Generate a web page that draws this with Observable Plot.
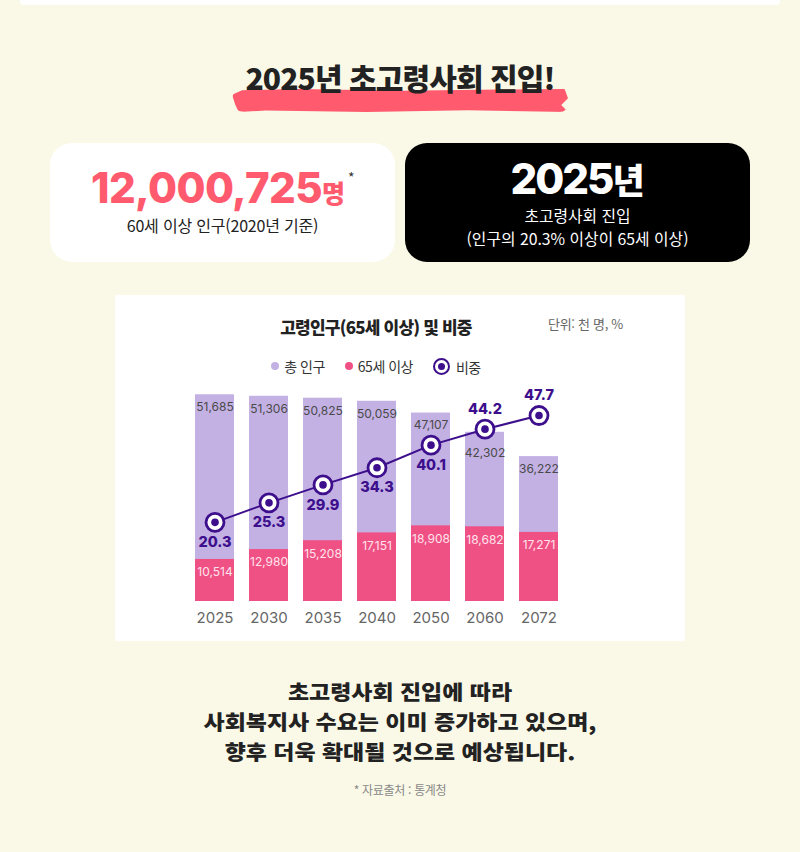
<!DOCTYPE html>
<html lang="ko">
<head>
<meta charset="utf-8">
<script src="https://cdn.jsdelivr.net/npm/d3@7"></script>
<script src="https://cdn.jsdelivr.net/npm/@observablehq/plot@0.6"></script>
<style>
  html, body { margin: 0; padding: 0; }
  body {
    width: 800px; height: 852px; position: relative; overflow: hidden;
    background: #faf9e7;
    font-family: "Noto Sans CJK KR", "Noto Sans", sans-serif;
    color: #222;
  }
  .abs { position: absolute; }
  #topbar { left: 20px; top: 0; width: 760px; height: 5px; background: #fff; border-radius: 0 0 4px 4px; }
  #brush {
    left: 232px; top: 89px; width: 336px; height: 23px; background: #ff5a6e;
    border-radius: 10px 4px 8px 12px / 10px 6px 8px 10px;
    clip-path: polygon(0% 25%, 3% 5%, 20% 0%, 50% 8%, 80% 2%, 99% 0%, 100% 40%, 98% 70%, 100% 100%, 70% 92%, 40% 100%, 10% 94%, 2% 100%, 1% 70%);
  }
  #mainTitle {
    left: 0; width: 800px; top: 57px; text-align: center;
    font-size: 30px; font-weight: 800; letter-spacing: -0.9px; line-height: 40px; color: #222;
  }
  .card { top: 143px; width: 345px; height: 119px; border-radius: 22px; text-align: center; }
  #cardA { left: 50px; background: #fff; }
  #cardB { left: 405px; background: #000; color: #fff; }
  .line { position: absolute; left: 0; width: 345px; white-space: nowrap; line-height: normal; }
  #bigNum { top: 18.5px; font-size: 42px; font-weight: 800; color: #ff5a6e; font-family: Inter, "Noto Sans CJK KR", sans-serif; letter-spacing: -0.6px; }
  #bigNum .u { font-size: 25px; letter-spacing: 0; font-family: "Noto Sans CJK KR", sans-serif; }
  #bigNum .s { font-size: 14px; color: #333; vertical-align: 20px; font-weight: 400; margin-left: 3px; font-family: "Noto Sans CJK KR", sans-serif; }
  #subA { top: 70px; font-size: 16px; letter-spacing: -0.2px; color: #222; }
  #yearB { top: 9.6px; font-size: 42px; font-weight: 800; letter-spacing: -2px; font-family: Inter, "Noto Sans CJK KR", sans-serif; }
  #yearB span { font-family: "Noto Sans CJK KR", sans-serif; font-size: 35px; letter-spacing: 0; }
  #subB1 { top: 60.6px; font-size: 15.8px; letter-spacing: 0px; }
  #subB2 { top: 83.5px; font-size: 15.8px; letter-spacing: 0px; }
  #panel { left: 115px; top: 295px; width: 570px; height: 346px; background: #fff; }
  #chartTitle { position: absolute; left: 0; width: 522px; top: 18px; text-align: center; font-size: 17px; font-weight: 800; letter-spacing: -0.8px; line-height: 28px; color: #222; }
  #unit { position: absolute; left: 433px; top: 18px; font-size: 13px; color: #666; letter-spacing: -0.3px; line-height: 22px; }
  #legend { position: absolute; left: 0; width: 522px; top: 57px; text-align: center; font-size: 14px; letter-spacing: -0.5px; line-height: 24px; color: #333; }
  #legend .item { display: inline-flex; align-items: center; margin: 0 10px; }
  #legend .dot { width: 8px; height: 8px; border-radius: 50%; display: inline-block; margin-right: 5px; }
  #legend .ring { width: 13px; height: 13px; border-radius: 50%; border: 2.5px solid #3d0f8c; display: inline-flex; align-items: center; justify-content: center; margin-right: 6px; background: #fff; }
  #legend .ring i { width: 7px; height: 7px; border-radius: 50%; background: #3d0f8c; display: block; }
  #chart { position: absolute; left: 0; top: 80px; }
  .bt { left: 0; width: 800px; text-align: center; font-size: 20.5px; font-weight: 900; line-height: 30px; letter-spacing: 0px; color: #222; white-space: nowrap; transform: scaleX(1.12); transform-origin: 400px 50%; }
  #bt1 { top: 676px; } #bt2 { top: 706px; } #bt3 { top: 736px; }
  #source { left: 0; width: 800px; top: 781px; text-align: center; font-size: 12px; color: #888; letter-spacing: -0.3px; line-height: 18px; }
</style>
</head>
<body>
<div id="topbar" class="abs"></div>
<div id="brush" class="abs"></div>
<div id="mainTitle" class="abs">2025년 초고령사회 진입!</div>

<div id="cardA" class="abs card">
  <div id="bigNum" class="line">12,000,725<span class="u">명</span><span class="s">*</span></div>
  <div id="subA" class="line">60세 이상 인구(2020년 기준)</div>
</div>
<div id="cardB" class="abs card">
  <div id="yearB" class="line">2025<span>년</span></div>
  <div id="subB1" class="line">초고령사회 진입</div>
  <div id="subB2" class="line">(인구의 20.3% 이상이 65세 이상)</div>
</div>

<div id="panel" class="abs">
  <div id="chartTitle">고령인구(65세 이상) 및 비중</div>
  <div id="unit">단위: 천 명, %</div>
  <div id="legend"></div>
  <div id="chart"></div>
</div>

<div id="bt1" class="abs bt">초고령사회 진입에 따라</div>
<div id="bt2" class="abs bt">사회복지사 수요는 이미 증가하고 있으며,</div>
<div id="bt3" class="abs bt">향후 더욱 확대될 것으로 예상됩니다.</div>
<div id="source" class="abs">* 자료출처 : 통계청</div>

<script>
// ---- data ----
const years = ["2025", "2030", "2035", "2040", "2050", "2060", "2072"];
const totalPop = [51685, 51306, 50825, 50059, 47107, 42302, 36222];   // 총 인구 (천 명)
const seniorPop = [10514, 12980, 15208, 17151, 18908, 18682, 17271];  // 65세 이상 (천 명)
const seniorShare = [20.3, 25.3, 29.9, 34.3, 40.1, 44.2, 47.7];       // 비중 (%)
const legendLabels = ["총 인구", "65세 이상", "비중"];

// ---- styles ----
const C_TOTAL = "#c3b1e4", C_SENIOR = "#f05185", C_LINE = "#3d0f8c";
const POP_MAX = 54000;   // population domain
const PCT_MAX = 55.4;    // share domain mapped onto the same vertical range
const PLOT_H = 266, M_TOP = 10, M_BOTTOM = 40;
const UNITS_PER_PX = POP_MAX / (PLOT_H - M_TOP - M_BOTTOM);

const rows = years.map((year, i) => ({
  year, total: totalPop[i], senior: seniorPop[i], share: seniorShare[i], i
}));
const shareY = d => d.share * POP_MAX / PCT_MAX;
// total label collides with the share marker when the marker sits near the bar top
const collides = d => Math.abs(d.total - shareY(d)) < 14 * UNITS_PER_PX;
const fmt = d3.format(",");
const NUM_FONT = 'Inter, "Noto Sans CJK KR", sans-serif';

// legend
const lg = document.getElementById("legend");
lg.innerHTML =
  `<span class="item"><span class="dot" style="background:${C_TOTAL}"></span>${legendLabels[0]}</span>` +
  `<span class="item"><span class="dot" style="background:${C_SENIOR}"></span>${legendLabels[1]}</span>` +
  `<span class="item"><span class="ring"><i></i></span>${legendLabels[2]}</span>`;

const chart = Plot.plot({
  width: 570,
  height: PLOT_H,
  marginTop: M_TOP,
  marginBottom: M_BOTTOM,
  marginLeft: 79,
  marginRight: 127,
  style: { fontFamily: NUM_FONT, background: "transparent", overflow: "visible" },
  x: { type: "band", domain: years, paddingInner: 0.28, paddingOuter: 0, label: null },
  y: { domain: [0, POP_MAX], axis: null },
  marks: [
    Plot.barY(rows, { x: "year", y: "total", fill: C_TOTAL }),
    Plot.barY(rows, { x: "year", y: "senior", fill: C_SENIOR }),
    Plot.text(rows.filter(d => !collides(d)), { x: "year", y: "total", text: d => fmt(d.total), dy: 12.5, fill: "#4a4a4a", fontSize: 12, letterSpacing: "-0.8px" }),
    Plot.text(rows.filter(collides), { x: "year", y: "total", text: d => fmt(d.total), dy: 21, fill: "#4a4a4a", fontSize: 12, letterSpacing: "-0.8px" }),
    Plot.text(rows, { x: "year", y: "senior", text: d => fmt(d.senior), dy: 13, fill: "#ffe3ec", fontSize: 12, letterSpacing: "-0.8px" }),
    Plot.line(rows, { x: "year", y: shareY, stroke: C_LINE, strokeWidth: 2 }),
    Plot.dot(rows, { x: "year", y: shareY, r: 9, fill: "#fff", stroke: C_LINE, strokeWidth: 2.8 }),
    Plot.dot(rows, { x: "year", y: shareY, r: 3.8, fill: C_LINE }),
    Plot.text(rows.filter(d => d.i < 5), { x: "year", y: shareY, text: d => d.share.toFixed(1), dy: 20, fill: C_LINE, fontSize: 14.5, fontWeight: 800 }),
    Plot.text(rows.filter(d => d.i >= 5), { x: "year", y: shareY, text: d => d.share.toFixed(1), dy: -20, fill: C_LINE, fontSize: 14.5, fontWeight: 800 }),
    Plot.axisX({ tickSize: 0, tickPadding: 11, fontSize: 15, color: "#666", label: null })
  ]
});
document.getElementById("chart").appendChild(chart);
</script>
</body>
</html>
